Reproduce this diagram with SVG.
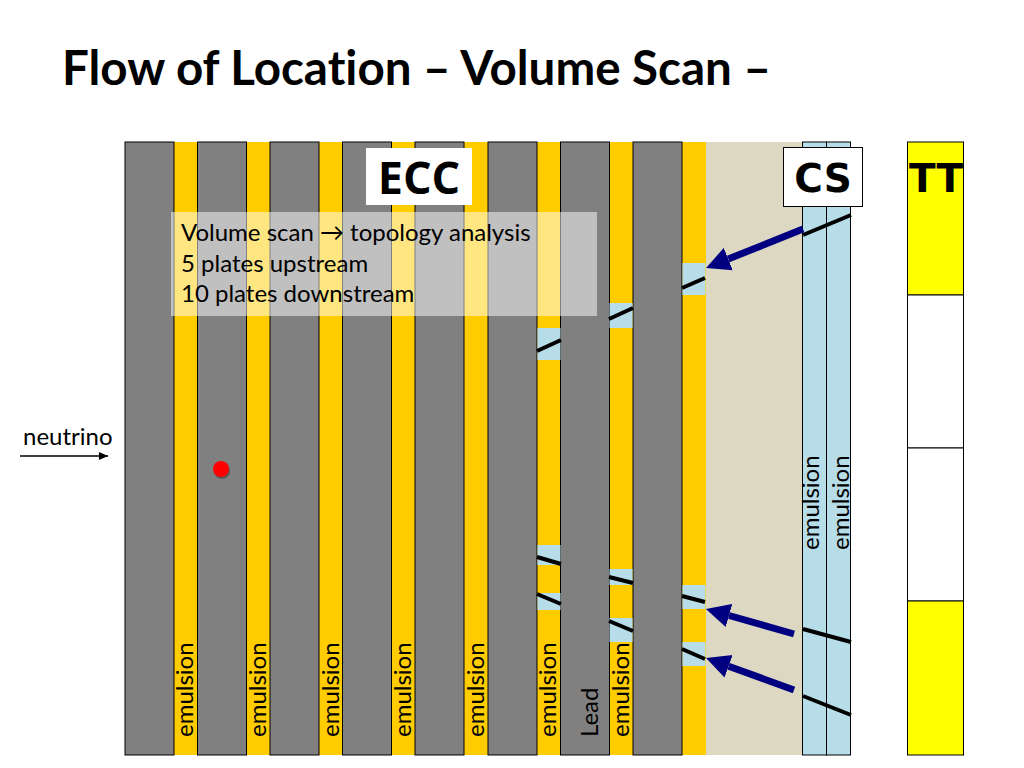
<svg xmlns="http://www.w3.org/2000/svg" width="1024" height="768" viewBox="0 0 1024 768">
<style>
.t{font-family:"Lato","Noto Sans",sans-serif;fill:#000;font-variant-ligatures:none}
.v{font-size:24px;fill:#000;font-family:"Lato","Noto Sans",sans-serif;font-variant-ligatures:none}
.lead{fill:#808080;stroke:#000;stroke-width:1}
.em{fill:#FFCC00}
.hit{fill:#B7DDE8}
.cs{fill:#B7DDE8;stroke:#000;stroke-width:1}
.trk{stroke:#000;stroke-width:4;fill:none}
.arr{stroke:#000080;stroke-width:7;fill:none;marker-end:url(#h)}
.big{font-family:"DejaVu Sans",sans-serif;font-weight:700;font-size:39px;fill:#000;text-anchor:middle}
</style>
<defs>
<marker id="h" markerUnits="userSpaceOnUse" markerWidth="25" markerHeight="26" refX="0" refY="13" orient="auto"><path d="M0 1L24 13L0 25Z" fill="#000080"/></marker>
<marker id="n" markerUnits="userSpaceOnUse" markerWidth="9" markerHeight="8" refX="9" refY="4" orient="auto"><path d="M0 0L9 4L0 8Z" fill="#000"/></marker>
</defs>
<rect width="1024" height="768" fill="#fff"/>
<text class="t" x="62" y="85" font-size="47.500" font-weight="700">Flow of Location – Volume Scan –</text>
<g id="emulsion-layers">
<rect class="em" x="174" y="142" width="24" height="613"/>
<rect class="em" x="246" y="142" width="24" height="613"/>
<rect class="em" x="319" y="142" width="24" height="613"/>
<rect class="em" x="391" y="142" width="24" height="613"/>
<rect class="em" x="464" y="142" width="24" height="613"/>
<rect class="em" x="537" y="142" width="24" height="613"/>
<rect class="em" x="609" y="142" width="24" height="613"/>
<rect class="em" x="682" y="142" width="24" height="613"/>
</g>
<g id="lead-plates">
<rect class="lead" x="125" y="142" width="49" height="613"/>
<rect class="lead" x="197.500" y="142" width="49" height="613"/>
<rect class="lead" x="270" y="142" width="49" height="613"/>
<rect class="lead" x="342.500" y="142" width="49" height="613"/>
<rect class="lead" x="415" y="142" width="49" height="613"/>
<rect class="lead" x="488" y="142" width="49" height="613"/>
<rect class="lead" x="560.500" y="142" width="49" height="613"/>
<rect class="lead" x="633" y="142" width="49" height="613"/>
</g>
<rect id="gap" x="706" y="142" width="97" height="613" fill="#DDD8C2"/>
<g id="cs-films">
<rect class="cs" x="802.500" y="142" width="24" height="613"/>
<rect class="cs" x="826.500" y="142" width="24" height="613"/>
</g>
<g id="hits">
<rect class="hit" x="537.500" y="328" width="23" height="32"/>
<rect class="hit" x="609.500" y="303" width="23" height="25"/>
<rect class="hit" x="682.500" y="263" width="23" height="32"/>
<rect class="hit" x="537.500" y="545" width="23" height="20"/>
<rect class="hit" x="537.500" y="593" width="23" height="17"/>
<rect class="hit" x="609.500" y="569" width="23" height="16"/>
<rect class="hit" x="609.500" y="618" width="23" height="24"/>
<rect class="hit" x="682.500" y="585" width="23" height="24"/>
<rect class="hit" x="682.500" y="642" width="23" height="24"/>
</g>
<g id="tt">
<rect x="907.500" y="142" width="56" height="153" fill="#FFFF00" stroke="#000"/>
<rect x="907.500" y="295" width="56" height="153" fill="#fff" stroke="#000"/>
<rect x="907.500" y="448" width="56" height="153" fill="#fff" stroke="#000"/>
<rect x="907.500" y="601" width="56" height="154" fill="#FFFF00" stroke="#000"/>
<text class="big" x="936" y="192">TT</text>
</g>
<g id="connectors">
<line class="trk" x1="537" y1="351" x2="561" y2="340"/>
<line class="trk" x1="609" y1="319" x2="633" y2="308"/>
<line class="trk" x1="682" y1="288" x2="705" y2="278"/>
<line class="trk" x1="803" y1="235" x2="851" y2="215"/>
<line class="trk" x1="537" y1="557" x2="561" y2="564"/>
<line class="trk" x1="537" y1="594" x2="561" y2="604"/>
<line class="trk" x1="609" y1="577" x2="633" y2="583"/>
<line class="trk" x1="609" y1="621" x2="633" y2="631"/>
<line class="trk" x1="682" y1="596" x2="705" y2="602"/>
<line class="trk" x1="682" y1="649" x2="705" y2="659"/>
<line class="trk" x1="803" y1="629" x2="851" y2="642"/>
<line class="trk" x1="803" y1="696" x2="851" y2="715"/>
<line class="arr" x1="803" y1="229" x2="728.300" y2="259"/>
<line class="arr" x1="794" y1="634" x2="729" y2="615.500"/>
<line class="arr" x1="794" y1="690" x2="728.600" y2="666.200"/>
<line x1="20" y1="456" x2="108" y2="456" stroke="#000" stroke-width="1.300" marker-end="url(#n)"/>
</g>
<g id="labels">
<text class="v" transform="translate(193 737) rotate(-90)">emulsion</text>
<text class="v" transform="translate(266 737) rotate(-90)">emulsion</text>
<text class="v" transform="translate(339 737) rotate(-90)">emulsion</text>
<text class="v" transform="translate(411 737) rotate(-90)">emulsion</text>
<text class="v" transform="translate(484 737) rotate(-90)">emulsion</text>
<text class="v" transform="translate(556 737) rotate(-90)">emulsion</text>
<text class="v" transform="translate(598 737) rotate(-90)">Lead</text>
<text class="v" transform="translate(629 737) rotate(-90)">emulsion</text>
<text class="v" transform="translate(819 550) rotate(-90)">emulsion</text>
<text class="v" transform="translate(849 550) rotate(-90)">emulsion</text>
<text class="v" x="23" y="445">neutrino</text>
</g>
<g id="ecc"><rect x="366" y="148" width="106" height="57" fill="#fff"/><text x="419" y="194" font-family="Open Sans, sans-serif" font-weight="700" font-size="45" text-anchor="middle">ECC</text></g>
<g id="cs"><rect x="783.500" y="147.500" width="79" height="59" fill="#fff" stroke="#000"/><text class="big" x="823" y="192">CS</text></g>
<g id="note">
<rect x="171" y="212" width="426" height="104" fill="#fff" fill-opacity="0.5"/>
<text class="v" x="181" y="241">Volume scan → topology analysis</text>
<text class="v" x="181" y="272">5 plates upstream</text>
<text class="v" x="181" y="302">10 plates downstream</text>
</g>
<g id="vertex"><circle cx="222" cy="471" r="8" fill="#000" fill-opacity="0.3"/><circle cx="221" cy="469" r="8" fill="#FF0000"/></g>
</svg>
